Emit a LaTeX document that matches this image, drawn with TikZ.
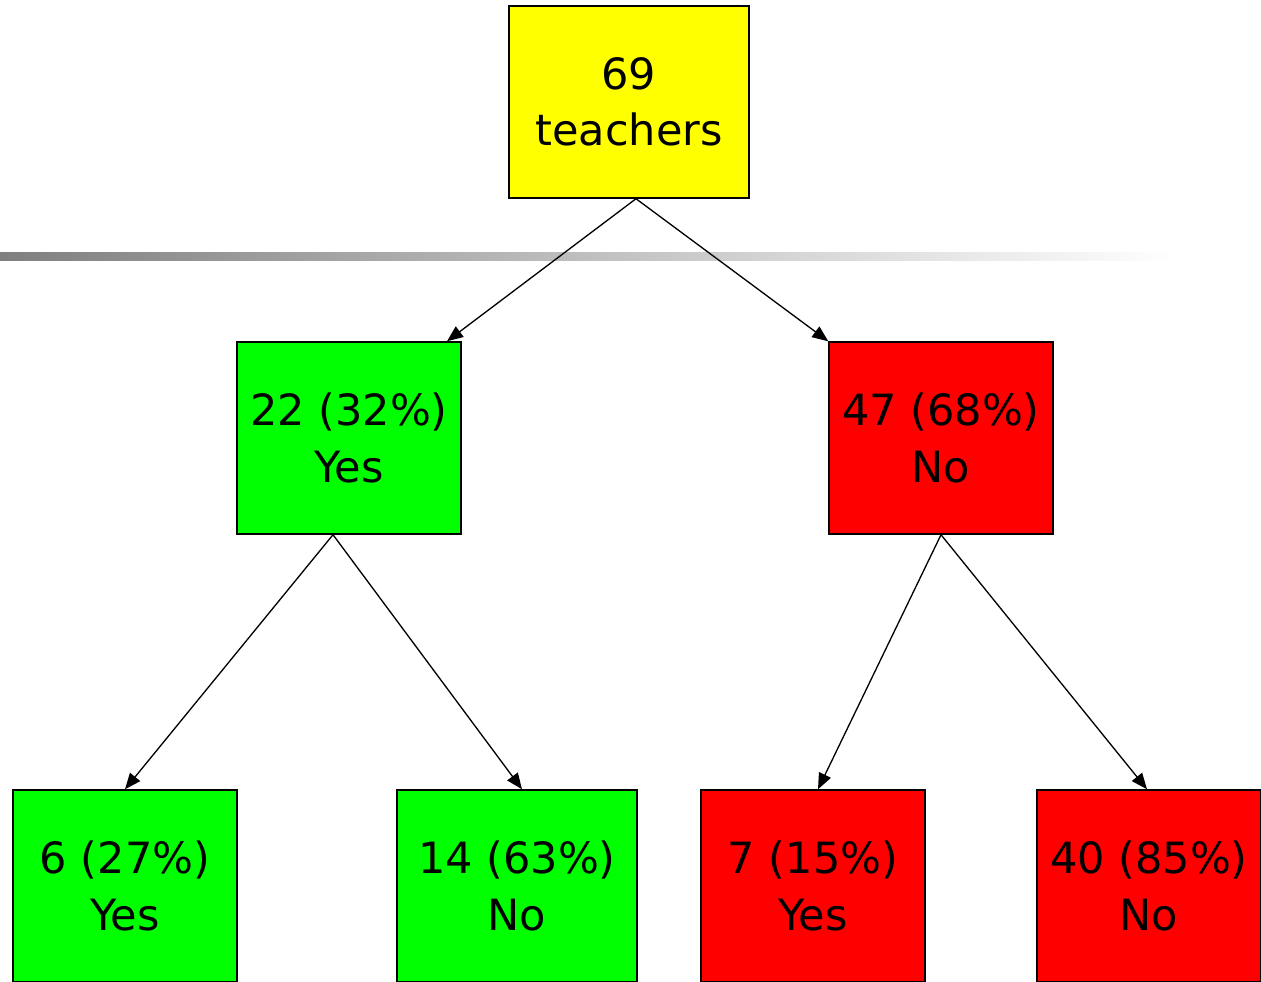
\documentclass[tikz,border=0pt]{standalone}
\usepackage{fontspec}
\setmainfont{DejaVu Sans}
\usepackage{tikz}
\usetikzlibrary{arrows.meta}

\definecolor{rootyellow}{HTML}{FFFF00}
\definecolor{yesgreen}{HTML}{00FF00}
\definecolor{nored}{HTML}{FF0000}

\tikzset{
    box/.style={draw=black, line width=0.85pt, minimum width=4.48cm, minimum height=3.84cm,
        inner sep=0pt, align=center, font=\fontsize{24.5}{32}\selectfont},
    wide/.style={minimum width=4.8cm},
    link/.style={-{Triangle[length=0.32cm,width=0.26cm]}, line width=0.75pt}
}

\begin{document}
\begin{tikzpicture}[x=0.02cm, y=-0.02cm]
    \useasboundingbox (0,0) rectangle (1261,981);

    % Draw the fading rule
    \shade[left color=black!50, right color=white] (0,252) rectangle (1175,260);

    % Draw the boxes
    \node[box, wide, fill=rootyellow] (root) at (629,102) {69\\teachers};
    \node[box, fill=yesgreen] (yes) at (349,438) {22 (32\%)\\Yes};
    \node[box, fill=nored] (no) at (941,438) {47 (68\%)\\No};
    \node[box, fill=yesgreen] (yesyes) at (125,886) {6 (27\%)\\Yes};
    \node[box, wide, fill=yesgreen] (yesno) at (517,886) {14 (63\%)\\No};
    \node[box, fill=nored] (noyes) at (813,886) {7 (15\%)\\Yes};
    \node[box, fill=nored] (nono) at (1149,886) {40 (85\%)\\No};

    % Draw the arrows
    \draw[link] ([xshift=0.14cm]root.south) -- ([xshift=1.96cm]yes.north);
    \draw[link] ([xshift=0.14cm]root.south) -- (no.north west);
    \draw[link] ([xshift=-0.32cm]yes.south) -- (yesyes.north);
    \draw[link] ([xshift=-0.32cm]yes.south) -- ([xshift=0.1cm]yesno.north);
    \draw[link] (no.south) -- ([xshift=0.1cm]noyes.north);
    \draw[link] (no.south) -- ([xshift=-0.04cm]nono.north);

\end{tikzpicture}
\end{document}
